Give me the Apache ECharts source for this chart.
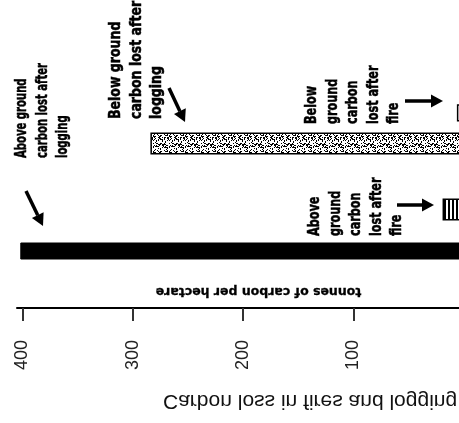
<!DOCTYPE html>
<html>
<head>
<meta charset="utf-8">
<script src="https://cdn.jsdelivr.net/npm/echarts@6/dist/echarts.min.js"></script>
<style>
html,body{margin:0;padding:0;background:#fff;}
#chart{width:459px;height:423px;}
</style>
</head>
<body>
<div id="chart"></div>
<script>
// ---- data ----
const categories = [
  "Below ground carbon lost after fire",
  "Below ground carbon lost after logging",
  "Above ground carbon lost after fire",
  "Above ground carbon lost after logging"
];
const values = [6, 284, 19, 402];
const tickValues = [100, 200, 300, 400];
const titleText = "Carbon loss in fires and logging";
const axisTitle = "tonnes of carbon per hectare";
const annotations = [
  ["Above ground", "carbon lost after", "logging"],
  ["Below ground", "carbon lost after", "logging"],
  ["Below", "ground", "carbon", "lost after", "fire"],
  ["Above", "ground", "carbon", "lost after", "fire"]
];

// ---- layout ----
const slotOf = [0, 3, 9, 13];
const nSlots = 14;

function makeStipple() {
  const n = 16;
  const c = document.createElement('canvas');
  c.width = n; c.height = n;
  const ctx = c.getContext('2d');
  ctx.fillStyle = '#fff'; ctx.fillRect(0, 0, n, n);
  ctx.fillStyle = '#000';
  for (let y = 0; y < n; y++) for (let x = 0; x < n; x++) {
    const h = (x * 37 + y * 91 + x * y * 13 + x * x * 7 + y * y * 3) % 17;
    if (h < 6) ctx.fillRect(x, y, 1, 1);
  }
  return c;
}
function makeStripes() {
  const c = document.createElement('canvas');
  c.width = 4; c.height = 4;
  const ctx = c.getContext('2d');
  ctx.fillStyle = '#fff'; ctx.fillRect(0, 0, 4, 4);
  ctx.fillStyle = '#000'; ctx.fillRect(0, 0, 2, 4);
  return c;
}
const styles = [
  { color: '#fff', borderColor: '#000', borderWidth: 1.5 },
  { color: { image: makeStipple(), repeat: 'repeat' }, borderColor: '#000', borderWidth: 1.5 },
  { color: { image: makeStripes(), repeat: 'repeat' }, borderColor: '#000', borderWidth: 1.5 },
  { color: '#000', borderColor: '#000', borderWidth: 1 }
];

const slotLabels = [];
const slotData = [];
for (let i = 0; i < nSlots; i++) { slotLabels.push(''); slotData.push(null); }
categories.forEach((c, i) => {
  slotLabels[slotOf[i]] = c;
  slotData[slotOf[i]] = { value: values[i], name: c, itemStyle: styles[i] };
});

function arrow(x1, y1, x2, y2) {
  const ang = Math.atan2(y2 - y1, x2 - x1);
  const hl = 12, hw = 6.5;
  const bx = x2 - hl * Math.cos(ang), by = y2 - hl * Math.sin(ang);
  const px = -Math.sin(ang) * hw, py = Math.cos(ang) * hw;
  return [
    { type: 'line', shape: { x1: x1, y1: y1, x2: bx, y2: by }, style: { stroke: '#000', lineWidth: 3.5 } },
    { type: 'polygon', shape: { points: [[x2, y2], [bx + px, by + py], [bx - px, by - py]] }, style: { fill: '#000' } }
  ];
}
const annFont = '"Liberation Sans Narrow", "DejaVu Sans Condensed", "DejaVu Sans", sans-serif';
const annPos = [[12, 158], [106, 119], [302, 124], [305, 236]];
const annScale = [0.7, 0.87, 0.78, 0.78];
const graphics = [];
annotations.forEach((lines, i) => {
  graphics.push({
    type: 'text', x: annPos[i][0], y: annPos[i][1], rotation: Math.PI / 2, scaleX: annScale[i],
    style: { text: lines.join('\n'), fontFamily: annFont, fontWeight: 'bold', fontSize: 16,
      lineHeight: 20.5, fill: '#000', stroke: '#000', lineWidth: 0.5,
      textAlign: 'left', textVerticalAlign: 'top' }
  });
});
graphics.push(...arrow(26, 191, 43, 226));
graphics.push(...arrow(169, 88, 185, 122));
graphics.push(...arrow(405, 101, 443, 101));
graphics.push(...arrow(397, 205, 434, 205));
graphics.push({
  type: 'text', x: 258.5, y: 291, rotation: Math.PI,
  style: { text: axisTitle, fontFamily: '"DejaVu Sans", sans-serif', fontWeight: 'bold', fontSize: 12.5,
    fill: '#000', stroke: '#000', lineWidth: 0.3, textAlign: 'center', textVerticalAlign: 'middle' }
});
graphics.push({
  type: 'text', x: 163, y: 401, scaleY: -1,
  style: { text: titleText, fontFamily: '"Liberation Sans", Arial, sans-serif', fontSize: 21,
    fill: '#111', textAlign: 'left', textVerticalAlign: 'middle' }
});

const chart = echarts.init(document.getElementById('chart'), null, { renderer: 'canvas' });
chart.setOption({
  animation: false,
  backgroundColor: '#fff',
  grid: { left: 17, right: -4.5, top: 105, height: 154, outerBoundsMode: 'none', containLabel: false },
  xAxis: {
    type: 'value', inverse: true, min: 0, max: 405, interval: 100, position: 'bottom', offset: 49,
    splitLine: { show: false },
    axisLine: { show: true, lineStyle: { color: '#000', width: 2 } },
    axisTick: { show: true, customValues: tickValues, length: 13, lineStyle: { color: '#333', width: 2 } },
    axisLabel: { customValues: tickValues, rotate: 90, margin: 32, fontSize: 18, color: '#222',
      fontFamily: '"Liberation Sans", Arial, sans-serif' }
  },
  yAxis: {
    type: 'category', data: slotLabels, inverse: true, show: false
  },
  series: [{
    type: 'bar', data: slotData, barWidth: 22
  }],
  graphic: graphics
});
</script>
</body>
</html>
